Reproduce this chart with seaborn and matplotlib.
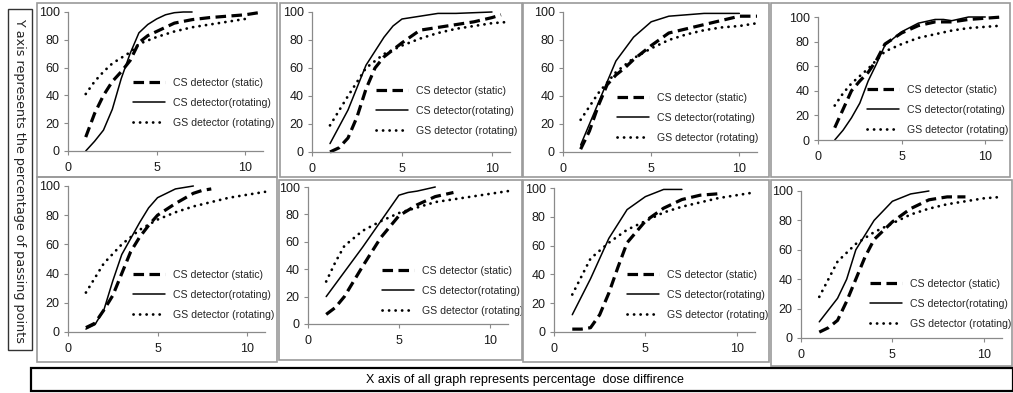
import matplotlib
matplotlib.use("Agg")
import matplotlib.pyplot as plt
from matplotlib.patches import Rectangle
import seaborn as sns
import pandas as pd

# ---------------- data (percentage dose difference vs % passing points) -------------
LEGEND_LABELS = ["CS detector (static)", "CS detector(rotating)", "GS detector (rotating)"]
X_TICKS = [0, 5, 10]
Y_TICKS = [0, 20, 40, 60, 80, 100]

# Panel 1 (top-left)
P1_STATIC_X = [1, 1.5, 2, 2.5, 3, 3.5, 4, 4.5, 5, 6, 7, 8, 9, 10, 11]
P1_STATIC_Y = [10, 27, 40, 50, 57, 65, 78, 83, 86, 92, 94.5, 96, 97, 98, 100]
P1_ROT_X = [1, 1.5, 2, 2.5, 3, 3.5, 4, 4.5, 5, 5.5, 6, 6.5, 7]
P1_ROT_Y = [0, 7, 15, 30, 52, 70, 85, 91, 95, 98, 99.5, 100, 100]
P1_GS_X = [1, 1.5, 2, 2.5, 3, 3.5, 4, 5, 6, 7, 8, 9, 10]
P1_GS_Y = [41, 50, 57, 63, 67, 71, 77, 82, 86, 89, 91, 93, 95]

# Panel 2
P2_STATIC_X = [1, 1.5, 2, 2.5, 3, 3.5, 4, 5, 6, 7, 8, 9, 10, 10.5]
P2_STATIC_Y = [0, 3, 10, 25, 45, 60, 68, 78, 87, 89, 91, 93, 96, 98]
P2_ROT_X = [1, 2, 3, 4, 4.5, 5, 6, 7, 8, 9, 10]
P2_ROT_Y = [6, 30, 62, 82, 90, 95, 97, 99, 99, 99.5, 100]
P2_GS_X = [1, 2, 3, 4, 5, 6, 7, 8, 9, 10, 11]
P2_GS_Y = [19, 40, 60, 70, 76, 81, 85, 88, 90, 92, 93]

# Panel 3
P3_STATIC_X = [1, 1.5, 2, 2.5, 3, 3.5, 4, 5, 6, 7, 8, 9, 10, 11]
P3_STATIC_Y = [2, 15, 33, 48, 55, 60, 66, 76, 85, 88, 91, 94, 97, 97]
P3_ROT_X = [1, 2, 3, 4, 5, 6, 7, 8, 9, 10]
P3_ROT_Y = [5, 35, 65, 82, 93, 97, 98, 99, 99, 99]
P3_GS_X = [1, 2, 3, 4, 5, 6, 7, 8, 9, 10, 11]
P3_GS_Y = [23, 42, 57, 67, 74, 80, 84, 87, 89, 90, 92]

# Panel 4
P4_STATIC_X = [1, 1.5, 2, 2.5, 3, 3.5, 4, 5, 6, 7, 8, 9, 10, 11]
P4_STATIC_Y = [10, 25, 40, 48, 55, 65, 78, 87, 93, 96, 96, 98, 99, 100]
P4_ROT_X = [1, 1.5, 2, 2.5, 3, 3.5, 4, 5, 6, 7, 7.5, 8, 9, 10]
P4_ROT_Y = [0, 8, 18, 30, 48, 62, 77, 88, 95, 98, 98, 97, 100, 100]
P4_GS_X = [1, 1.5, 2, 3, 4, 5, 6, 7, 8, 9, 10, 11]
P4_GS_Y = [28, 38, 46, 58, 72, 78, 83, 86, 89, 91, 92, 93]

# Panel 5 (bottom-left)
P5_STATIC_X = [1, 1.5, 2, 2.5, 3, 3.5, 4, 4.5, 5, 6, 7, 7.5, 8]
P5_STATIC_Y = [3, 6, 15, 25, 40, 55, 65, 73, 80, 88, 95, 97, 98]
P5_ROT_X = [1, 1.5, 2, 2.5, 3, 3.5, 4, 4.5, 5, 6, 7]
P5_ROT_Y = [2, 5, 15, 35, 53, 64, 75, 85, 92, 98, 100]
P5_GS_X = [1, 2, 3, 4, 5, 6, 7, 8, 9, 10, 11]
P5_GS_Y = [27, 47, 60, 70, 77, 82, 86, 89, 92, 94, 96]

# Panel 6
P6_STATIC_X = [1, 1.5, 2, 3, 4, 5, 6, 7, 8]
P6_STATIC_Y = [7, 12, 20, 42, 63, 79, 87, 93, 96]
P6_ROT_X = [1, 2, 3, 4, 5, 5.5, 6, 7]
P6_ROT_Y = [20, 38, 56, 75, 94, 96, 97, 100]
P6_GS_X = [1, 1.5, 2, 3, 4, 5, 6, 7, 8, 9, 10, 11]
P6_GS_Y = [31, 45, 57, 68, 75, 81, 85, 89, 91, 93, 95, 97]

# Panel 7
P7_STATIC_X = [1, 1.5, 2, 2.5, 3, 3.5, 4, 5, 6, 7, 8, 9]
P7_STATIC_Y = [2, 2, 3, 12, 27, 45, 62, 77, 86, 92, 95, 96]
P7_ROT_X = [1, 2, 3, 4, 5, 6, 7]
P7_ROT_Y = [12, 37, 65, 85, 94, 99, 99]
P7_GS_X = [1, 2, 3, 4, 5, 6, 7, 8, 9, 10, 11]
P7_GS_Y = [26, 51, 62, 71, 77, 83, 87, 90, 93, 95, 97]

# Panel 8
P8_STATIC_X = [1, 1.5, 2, 2.5, 3, 3.5, 4, 5, 6, 7, 8, 9]
P8_STATIC_Y = [4, 7, 12, 25, 40, 55, 67, 79, 88, 94, 96, 96]
P8_ROT_X = [1, 2, 2.5, 3, 4, 5, 6, 7]
P8_ROT_Y = [11, 27, 40, 60, 80, 93, 98, 100]
P8_GS_X = [1, 2, 3, 4, 5, 6, 7, 8, 9, 10, 11]
P8_GS_Y = [28, 52, 64, 72, 78, 84, 88, 91, 93, 95, 96]

PANELS = [
    (P1_STATIC_X, P1_STATIC_Y, P1_ROT_X, P1_ROT_Y, P1_GS_X, P1_GS_Y),
    (P2_STATIC_X, P2_STATIC_Y, P2_ROT_X, P2_ROT_Y, P2_GS_X, P2_GS_Y),
    (P3_STATIC_X, P3_STATIC_Y, P3_ROT_X, P3_ROT_Y, P3_GS_X, P3_GS_Y),
    (P4_STATIC_X, P4_STATIC_Y, P4_ROT_X, P4_ROT_Y, P4_GS_X, P4_GS_Y),
    (P5_STATIC_X, P5_STATIC_Y, P5_ROT_X, P5_ROT_Y, P5_GS_X, P5_GS_Y),
    (P6_STATIC_X, P6_STATIC_Y, P6_ROT_X, P6_ROT_Y, P6_GS_X, P6_GS_Y),
    (P7_STATIC_X, P7_STATIC_Y, P7_ROT_X, P7_ROT_Y, P7_GS_X, P7_GS_Y),
    (P8_STATIC_X, P8_STATIC_Y, P8_ROT_X, P8_ROT_Y, P8_GS_X, P8_GS_Y),
]

Y_LABEL = "Y axis represents the percentage of passing points"
X_NOTE = "X axis of all graph represents percentage  dose diffirence"

# ---------------- layout (pixels) ----------------
W, H = 1013, 393
# axes: left(x=0), right(x=11), top(y=100), bottom(y=0)
AX_PX = [
    (68, 263, 12, 151), (312, 510, 12, 152), (563, 757, 12, 152), (818, 1002, 17, 140),
    (68, 265, 186, 332), (308, 508, 187, 324), (554, 755, 188, 332), (801, 1002, 191, 338),
]
# panel frames: x0, y0, x1, y1
FRAME_PX = [
    (37, 3, 277, 177), (280, 3, 522, 177), (523, 3, 769, 177), (771, 3, 1010, 177),
    (37, 177, 277, 362), (279, 180, 522, 360), (523, 180, 769, 362), (771, 180, 1012, 366),
]
# legend anchor (upper-left of legend box, px)
LEG_PX = [
    (133, 78), (376, 86), (617, 93), (867, 85),
    (133, 270), (382, 266), (627, 270), (870, 279),
]

sns.set_theme(style="white")
LEG_FONT = ["Liberation Sans", "DejaVu Sans"]
plt.rcParams["font.family"] = ["Liberation Sans", "DejaVu Sans"]

fig = plt.figure(figsize=(W / 100, H / 100), dpi=100)
fig.patch.set_facecolor("white")


def frac_rect(x0, y0, x1, y1):
    return (x0 / W, 1 - y1 / H, (x1 - x0) / W, (y1 - y0) / H)


# panel frames
for (x0, y0, x1, y1) in FRAME_PX:
    l, b, w, h = frac_rect(x0, y0, x1, y1)
    fig.add_artist(Rectangle((l, b), w, h, transform=fig.transFigure, fill=False,
                             edgecolor="#9a9a9a", linewidth=1.2))

STYLES = [
    dict(linestyle=(0, (3.3, 1.7)), linewidth=2.3),
    dict(linestyle="-", linewidth=1.1),
    dict(linestyle=(0, (0.05, 2.3)), linewidth=2.0, dash_capstyle="round"),
]

for i, series in enumerate(PANELS):
    L, R, T, B = AX_PX[i]
    ax = fig.add_axes(frac_rect(L, T, R, B))
    ax.set_facecolor("none")
    for k in range(3):
        xs, ys = series[2 * k], series[2 * k + 1]
        df = pd.DataFrame({"x": xs, "y": ys})
        sns.lineplot(data=df, x="x", y="y", ax=ax, color="black", label=LEGEND_LABELS[k],
                     estimator=None, sort=False, legend=False, clip_on=False, **STYLES[k])
    ax.set_xlim(0, 11)
    ax.set_ylim(0, 100)
    ax.set_xticks(X_TICKS)
    ax.set_yticks(Y_TICKS)
    ax.set_xlabel("")
    ax.set_ylabel("")
    for s in ["top", "right"]:
        ax.spines[s].set_visible(False)
    for s in ["left", "bottom"]:
        ax.spines[s].set_color("#8a8a8a")
        ax.spines[s].set_linewidth(0.9)
    ax.tick_params(axis="both", which="major", direction="out", length=3, width=0.8,
                   color="#8a8a8a", labelsize=9, labelcolor="#1a1a1a", pad=3,
                   bottom=True, left=True)
    ax.tick_params(axis="x", pad=5)
    handles = ax.get_lines()[:3]
    lx, ly = LEG_PX[i]
    ax.legend(handles, LEGEND_LABELS, loc="upper left",
              bbox_to_anchor=(lx / W, 1 - ly / H), bbox_transform=fig.transFigure,
              frameon=False, handlelength=3.0, handletextpad=0.8, labelspacing=0.95,
              borderpad=0, borderaxespad=0,
              prop=dict(family=LEG_FONT, size=7.6))

# Y-label box
l, b, w, h = frac_rect(8, 9, 32, 350)
fig.add_artist(Rectangle((l, b), w, h, transform=fig.transFigure, fill=False,
                         edgecolor="#333333", linewidth=1.0))
fig.text(20 / W, 1 - 180 / H, Y_LABEL, rotation=-90, ha="center", va="center",
         family=["DejaVu Sans"], fontsize=9.2, color="#222222")

# X note box
l, b, w, h = frac_rect(31, 368, 1013, 391)
fig.add_artist(Rectangle((l, b), w, h, transform=fig.transFigure, fill=False,
                         edgecolor="black", linewidth=1.6))
fig.text(525 / W, 1 - 380 / H, X_NOTE, ha="center", va="center",
         family=["Liberation Sans", "DejaVu Sans"], fontsize=9,
         color="black")

fig.savefig("out.png", dpi=100, facecolor="white")
